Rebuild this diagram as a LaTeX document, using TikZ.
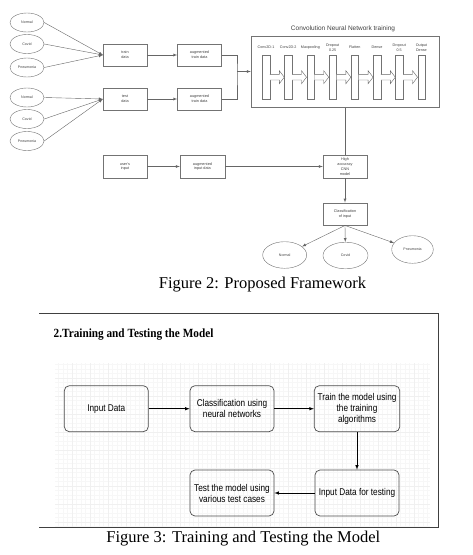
\documentclass[tikz,border=0pt]{standalone}
\usepackage{fontspec}
\setmainfont{Liberation Serif}
\setsansfont{Liberation Sans}
\newfontfamily\narrowsans[FakeStretch=0.84]{Liberation Sans}
\newfontfamily\narrowserif[FakeStretch=0.9]{Liberation Serif}
\usetikzlibrary{shapes, calc, positioning}

\begin{document}
\begin{tikzpicture}[x=1pt, y=-1pt]
		\tikzstyle{class}=[ellipse, draw=black!55, inner sep=0pt, minimum width=34pt, minimum height=19pt, text=black!75, font=\sffamily\fontsize{3.6}{4.3}\selectfont]
		\tikzstyle{box}=[rectangle, draw=black!55, minimum width=44pt, minimum height=22.5pt, inner sep=1pt, align=center, text=black!75, font=\sffamily\fontsize{3.8}{4.8}\selectfont]
		\tikzstyle{layer}=[rectangle, draw=black!55, minimum width=7.4pt, minimum height=44pt, inner sep=0pt]
		\tikzstyle{tag}=[inner sep=0pt, align=center, text=black!75, font=\sffamily\fontsize{3.7}{4.8}\selectfont]
		\tikzstyle{hollow}=[draw=black!60, fill=white, line width=0.4pt]
		\tikzstyle{link}=[->, >=latex, draw=black!60, line width=0.4pt]
		\tikzstyle{stage}=[rectangle, rounded corners=5pt, draw=black!70, line width=0.7pt, minimum width=84pt, minimum height=46pt, align=center, font=\narrowsans\fontsize{9.8}{11}\selectfont]
		\tikzstyle{flow}=[->, >=latex, line width=0.6pt]
		\tikzstyle{caption}=[inner sep=0pt, font=\fontsize{16.5}{18}\selectfont]

		\useasboundingbox (0,0) rectangle (472,555);

		% training and test data
		\node[class] (normalA) at (27,22.5) {Normal};
		\node[class] (covidA) at (27,44) {Covid};
		\node[class] (pneumoniaA) at (27,67.5) {Pneumonia};
		\node[class] (normalB) at (27,97.5) {Normal};
		\node[class] (covidB) at (27,119) {Covid};
		\node[class] (pneumoniaB) at (27,141) {Pneumonia};

		\node[box] (train) at (125,55) {train\\data};
		\node[box, right of=train, node distance=74.5pt] (augTrain) {augmented\\train data};
		\node[box] (test) at (125,99) {test\\data};
		\node[box, right of=test, node distance=74.5pt] (augTest) {augmented\\train data};

		\draw[link] (normalA.east) -- (train.west);
		\draw[link] (covidA.east) -- (train.west);
		\draw[link] (pneumoniaA.east) -- (train.west);
		\draw[link] (normalB.east) -- (test.west);
		\draw[link] (covidB.east) -- (test.west);
		\draw[link] (pneumoniaB.east) -- (test.west);
		\draw[link] (train) -- (augTrain);
		\draw[link] (test) -- (augTest);

		% network
		\node[rectangle, draw=black!55, minimum width=188pt, minimum height=71.6pt] (cnn) at (345,71.5) {};
		\node[tag, font=\sffamily\fontsize{6.5}{7}\selectfont] (cnnTitle) at (343,29) {Convolution Neural Network training};

		\foreach \i/\t [evaluate=\i as \x using 266+22.2*(\i-1)] in {1/Conv2D-1, 2/Conv2D-2, 3/Maxpooling, 4/Dropout\\0.25, 5/Flatten, 6/Dense, 7/Dropout\\0.5, 8/Output\\Dense} {
			\node[layer] (l\i) at (\x,77.2) {};
			\node[tag] (t\i) at ($(l\i.north)+(0,-7.4)$) {\t};
		}
		\foreach \i [evaluate=\i as \j using int(\i+1)] in {1,...,7} {
			\draw[hollow] ($(l\i.east)+(0,-2.8)$) -- ($(l\j.west)+(-5,-2.8)$) -- ($(l\j.west)+(-5,-6.5)$) -- (l\j.west)
				-- ($(l\j.west)+(-5,6.5)$) -- ($(l\j.west)+(-5,2.8)$) -- ($(l\i.east)+(0,2.8)$);
		}

		\coordinate (join) at (237,71.5);
		\draw[draw=black!60, line width=0.4pt] (augTrain.east) -| (join) |- (augTest.east);
		\draw[link] (join) -- (cnn.west);

		% prediction
		\node[box] (user) at (125,166.5) {user's\\input};
		\node[box, minimum width=45pt, right of=user, node distance=77.5pt] (augInput) {augmented\\input data};
		\node[box] (model) at (345,166.5) {High\\accuracy\\CNN\\model};
		\node[box] (classify) at (345,214) {Classification\\of input};

		\node[class, minimum width=44pt, minimum height=26.6pt] (normalOut) at (284.7,255) {Normal};
		\node[class, minimum width=45pt, minimum height=26.6pt] (covidOut) at (345.5,255.5) {Covid};
		\node[class, minimum width=41.6pt, minimum height=27.6pt] (pneumoniaOut) at (412.5,249.5) {Pneumonia};

		\draw[draw=black!60, line width=0.4pt] (cnn.south) -- (model.north);
		\draw[link] (user) -- (augInput);
		\draw[link] (augInput) -- (model);
		\draw[link] (model) -- (classify);
		\draw[link] (classify.south) -- (normalOut);
		\draw[link] (classify.south) -- (covidOut);
		\draw[link] (classify.south) -- (pneumoniaOut);

		\node[caption] (capA) at (262.5,285) {Figure 2: Proposed Framework};

		% training and testing the model
		\draw[black!3, step=4.5pt] (55,363) grid (430,527);
		\draw[black!6, step=18pt] (55,363) grid (430,527);
		\draw[black!75, line width=1.2pt] (39.3,313.3) -- (438.3,313.3) -- (438.3,527.7) -- (39.3,527.7);

		\node[anchor=west, inner sep=0pt, font=\narrowserif\bfseries\fontsize{12.5}{14}\selectfont] (title) at (53.5,335) {2.Training and Testing the Model};

		\node[stage] (inputData) at (106.3,408.7) {Input Data};
		\node[stage, right of=inputData, node distance=125.7pt] (neural) {Classification using\\neural networks};
		\node[stage, right of=neural, node distance=125pt] (trainModel) {Train the model using\\the training\\algorithms};
		\node[stage, below of=trainModel, node distance=84.3pt] (testData) {Input Data for testing};
		\node[stage, left of=testData, node distance=125pt] (testModel) {Test the model using\\various test cases};

		\draw[flow] (inputData) -- (neural);
		\draw[flow] (neural) -- (trainModel);
		\draw[flow] (trainModel) -- (testData);
		\draw[flow] (testData) -- (testModel);

		\node[caption] (capB) at (243.3,539) {Figure 3: Training and Testing the Model};

	\end{tikzpicture}
\end{document}
